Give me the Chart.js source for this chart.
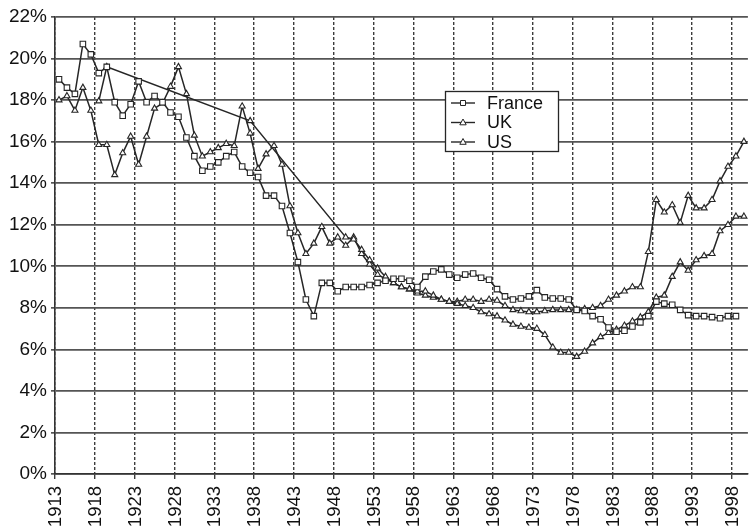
<!DOCTYPE html>
<html>
<head>
<meta charset="utf-8">
<script src="https://cdn.jsdelivr.net/npm/chart.js@4.4.0/dist/chart.umd.min.js"></script>
<style>
  html, body { margin: 0; padding: 0; background: #fff; }
  #wrap { width: 753px; height: 529px; }
</style>
</head>
<body>
<div id="wrap"><canvas id="chart" width="753" height="529"></canvas></div>
<script>
// years on the x axis
const years = [
  '1913','1914','1915','1916','1917','1918','1919','1920','1921','1922',
  '1923','1924','1925','1926','1927','1928','1929','1930','1931','1932',
  '1933','1934','1935','1936','1937','1938','1939','1940','1941','1942',
  '1943','1944','1945','1946','1947','1948','1949','1950','1951','1952',
  '1953','1954','1955','1956','1957','1958','1959','1960','1961','1962',
  '1963','1964','1965','1966','1967','1968','1969','1970','1971','1972',
  '1973','1974','1975','1976','1977','1978','1979','1980','1981','1982',
  '1983','1984','1985','1986','1987','1988','1989','1990','1991','1992',
  '1993','1994','1995','1996','1997','1998','1999'
];

// labelled years (every five years)
const tickYears = ['1913','1918','1923','1928','1933','1938','1943','1948','1953',
  '1958','1963','1968','1973','1978','1983','1988','1993','1998'];

// top income share, %
const france = [
  19.0, 18.6, 18.3, 20.7, 20.2, 19.3, 19.6, 17.9, 17.25, 17.8,
  18.9, 17.9, 18.2, 17.9, 17.4, 17.2, 16.2, 15.3, 14.6, 14.8,
  15.0, 15.3, 15.5, 14.8, 14.5, 14.3, 13.4, 13.4, 12.9, 11.6,
  10.2, 8.4, 7.6, 9.2, 9.2, 8.8, 9.0, 9.0, 9.0, 9.1,
  9.2, 9.3, 9.4, 9.4, 9.3, 9.0, 9.5, 9.75, 9.85, 9.6,
  9.45, 9.6, 9.65, 9.45, 9.35, 8.9, 8.55, 8.4, 8.45, 8.55,
  8.85, 8.5, 8.45, 8.45, 8.4, 7.9, 7.85, 7.6, 7.45, 7.05,
  6.85, 6.9, 7.1, 7.3, 7.6, 8.3, 8.2, 8.15, 7.9, 7.65,
  7.6, 7.6, 7.55, 7.5, 7.6, 7.6, null
];

const uk = [
  null, null, null, null, null, 17.95, 19.6, null, null, null,
  null, null, null, null, null, null, null, null, null, null,
  null, null, null, null, 17.0, null, null, null, null, null,
  null, null, null, null, null, null, 11.4, 11.3, 10.8, 10.3,
  9.9, 9.5, 9.2, 9.0, 8.9, 8.8, 8.8, 8.6, 8.4, 8.3,
  8.2, 8.1, 8.0, 7.8, 7.7, 7.6, 7.4, 7.2, 7.1, 7.05,
  7.0, 6.7, 6.1, 5.85, 5.85, 5.65, 5.9, 6.3, 6.6, 6.8,
  6.95, 7.15, 7.35, 7.55, 7.8, 8.5, 8.6, 9.5, 10.2, 9.8,
  10.3, 10.5, 10.6, 11.7, 12.0, 12.4, 12.4
];

const us = [
  18.0, 18.2, 17.5, 18.6, 17.5, 15.85, 15.85, 14.4, 15.45, 16.25,
  14.9, 16.25, 17.6, 17.85, 18.65, 19.6, 18.3, 16.3, 15.3, 15.5,
  15.7, 15.9, 15.8, 17.7, 16.4, 14.7, 15.4, 15.8, 14.9, 12.9,
  11.6, 10.6, 11.1, 11.9, 11.1, 11.4, 11.0, 11.4, 10.6, 10.1,
  9.6, 9.4, 9.2, 9.0, 8.9, 8.7, 8.6, 8.5, 8.4, 8.3,
  8.3, 8.4, 8.4, 8.3, 8.4, 8.35, 8.1, 7.9, 7.85, 7.8,
  7.8, 7.85, 7.9, 7.9, 7.9, 7.9, 7.95, 8.0, 8.1, 8.4,
  8.6, 8.8, 9.0, 9.0, 10.7, 13.2, 12.6, 12.95, 12.1, 13.4,
  12.8, 12.8, 13.2, 14.1, 14.8, 15.3, 16.0
];

const seriesNames = ['France', 'UK', 'US'];

const ink = '#262626';
const family = "'Liberation Sans', Arial, sans-serif";

function lineSet(label, values, shape, radius) {
  return {
    label: label,
    data: values,
    borderColor: ink,
    borderWidth: 1.5,
    backgroundColor: '#ffffff',
    pointStyle: shape,
    pointRadius: radius,
    pointBorderWidth: 1.1,
    pointBorderColor: ink,
    pointBackgroundColor: '#ffffff',
    tension: 0,
    spanGaps: true
  };
}

// is this x tick one of the labelled five-year marks?
function isMajor(index) {
  return tickYears.includes(years[index]);
}

// legend drawn inside the plot, like the scanned figure
const boxLegend = {
  id: 'boxLegend',
  afterDatasetsDraw(chart) {
    const ctx = chart.ctx;
    const x0 = 445, y0 = 91, w = 113, h = 60;
    ctx.save();
    ctx.fillStyle = '#fff';
    ctx.fillRect(x0, y0, w, h);
    ctx.strokeStyle = ink;
    ctx.lineWidth = 1.3;
    ctx.strokeRect(x0 + 0.5, y0 + 0.5, w, h);
    const shapes = ['rect', 'triangle', 'triangle'];
    seriesNames.forEach((name, i) => {
      const y = y0 + 12 + i * 19.5;
      ctx.strokeStyle = ink;
      ctx.lineWidth = 1.4;
      ctx.beginPath();
      ctx.moveTo(451, y);
      ctx.lineTo(475, y);
      ctx.stroke();
      ctx.fillStyle = '#fff';
      ctx.lineWidth = 1;
      ctx.beginPath();
      if (shapes[i] === 'rect') {
        ctx.rect(460.5, y - 2.5, 5, 5);
      } else {
        ctx.moveTo(463, y - 3.5);
        ctx.lineTo(466.2, y + 2.3);
        ctx.lineTo(459.8, y + 2.3);
        ctx.closePath();
      }
      ctx.fill();
      ctx.stroke();
      ctx.fillStyle = '#111';
      ctx.font = '18px ' + family;
      ctx.textBaseline = 'middle';
      ctx.textAlign = 'left';
      ctx.fillText(name, 487, y + 1);
    });
    ctx.restore();
  }
};

new Chart(document.getElementById('chart'), {
  type: 'line',
  data: {
    labels: years,
    datasets: [
      lineSet(seriesNames[0], france, 'rect', 3.9),
      lineSet(seriesNames[1], uk, 'triangle', 3.5),
      lineSet(seriesNames[2], us, 'triangle', 3.5)
    ]
  },
  options: {
    responsive: false,
    animation: false,
    layout: { padding: { top: 17, right: -5, bottom: 0, left: 0 } },
    plugins: {
      legend: { display: false },
      tooltip: { enabled: false }
    },
    scales: {
      x: {
        type: 'category',
        offset: true,
        grid: {
          offset: true,
          color: c => (isMajor(c.index) ? '#3c3c3c' : 'rgba(0,0,0,0)'),
          tickColor: c => (isMajor(c.index) ? '#3c3c3c' : 'rgba(0,0,0,0)'),
          lineWidth: 1.4,
          tickLength: 5
        },
        border: { display: true, color: '#333', width: 1.6, dash: [3, 2] },
        ticks: {
          autoSkip: false,
          minRotation: 90,
          maxRotation: 90,
          padding: 7,
          labelOffset: -3,
          color: '#111',
          font: { family: family, size: 18.5 },
          callback: function(value, index) {
            return isMajor(index) ? years[index] : '';
          }
        },
        afterFit(scale) {
          scale.height = 55;
          scale.paddingRight = 0;
          scale.paddingLeft = 0;
        }
      },
      y: {
        min: 0,
        max: 22,
        grid: { color: '#555', lineWidth: 1.7, tickLength: 4 },
        border: { display: true, color: '#333', width: 1.6 },
        ticks: {
          stepSize: 2,
          padding: 4,
          color: '#111',
          font: { family: family, size: 19 },
          callback: v => v + '%'
        },
        afterFit(scale) {
          scale.width = 55;
        }
      }
    }
  },
  plugins: [boxLegend]
});
</script>
</body>
</html>
